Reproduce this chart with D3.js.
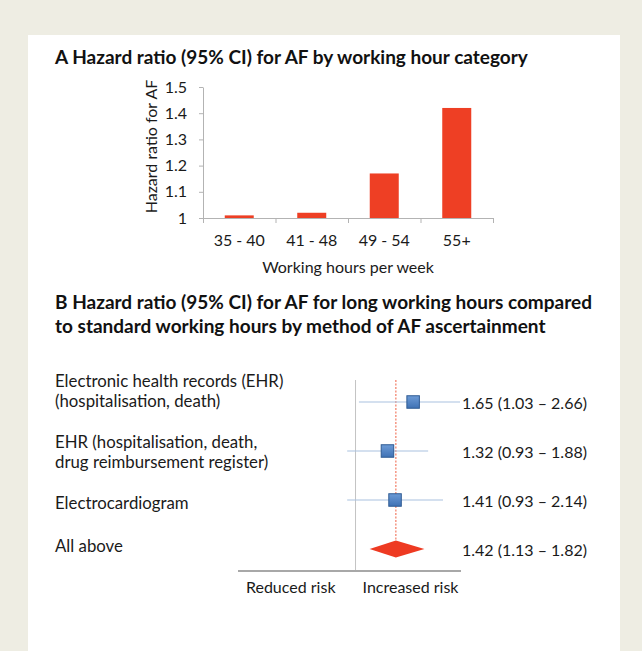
<!DOCTYPE html>
<html>
<head>
<meta charset="utf-8">
<script src="https://cdn.jsdelivr.net/npm/d3@7"></script>
<style>
  body { margin: 0; background: #eeede3; }
  svg { display: block; font-family: Lato, "Open Sans", sans-serif; }
  .title { font-weight: bold; font-size: 19px; fill: #111; }
  .lbl { font-size: 16px; fill: #1a1a1a; }
  .row-label { font-size: 16.8px; fill: #1a1a1a; }
  .lbl-a { font-size: 16px; fill: #1a1a1a; }
  .tick text { font-size: 16px; fill: #1a1a1a; font-family: Lato, sans-serif; }
</style>
</head>
<body>
<svg id="chart"></svg>
<script>
// ---- panel A data ----
const hourCategories = ['35 - 40', '41 - 48', '49 - 54', '55+'];
const hazardRatios = [1.01, 1.02, 1.17, 1.42];
const yTicks = [1, 1.1, 1.2, 1.3, 1.4, 1.5];

// ---- panel B data ----
const methodLabels = [
    ['Electronic health records (EHR)', '(hospitalisation, death)'],
    ['EHR (hospitalisation, death,', 'drug reimbursement register)'],
    ['Electrocardiogram'],
    ['All above']
];
const estimates = [1.65, 1.32, 1.41, 1.42];
const lowerCI = [1.03, 0.93, 0.93, 1.13];
const upperCI = [2.66, 1.88, 2.14, 1.82];
const estimateText = ['1.65 (1.03 \u2013 2.66)', '1.32 (0.93 \u2013 1.88)', '1.41 (0.93 \u2013 2.14)', '1.42 (1.13 \u2013 1.82)'];

const width = 642, height = 651;

const svg = d3.select('#chart')
    .attr('width', width)
    .attr('height', height);

svg.append('rect').attr('width', width).attr('height', height).attr('fill', '#eeede3');
svg.append('rect').attr('x', 28).attr('y', 35).attr('width', 592).attr('height', 616).attr('fill', '#fff');

// ===================== Panel A =====================
svg.append('text').attr('class', 'title')
    .attr('x', 55).attr('y', 64)
    .text('A Hazard ratio (95% CI) for AF by working hour category');

const axisColor = '#b3b3b3';

const xBand = d3.scaleBand()
    .domain(hourCategories)
    .range([203, 493])
    .paddingInner(0.6)
    .paddingOuter(0.3);

// boundaries between categories for the tick marks
const xEdges = d3.scaleLinear().domain([0, hourCategories.length]).range([203, 493]);

const yScale = d3.scaleLinear()
    .domain([1, 1.5])
    .range([218, 87]);

const chartA = svg.append('g');

chartA.selectAll('.bar')
    .data(hourCategories)
    .join('rect')
    .attr('class', 'bar')
    .attr('x', d => xBand(d))
    .attr('width', xBand.bandwidth())
    .attr('y', (d, i) => yScale(hazardRatios[i]))
    .attr('height', (d, i) => yScale(1) - yScale(hazardRatios[i]))
    .attr('fill', '#ee3f24');

// y axis
const yAxisG = chartA.append('g')
    .attr('transform', 'translate(203,0)')
    .call(d3.axisLeft(yScale).tickValues(yTicks).tickFormat(d => String(d)).tickSize(4).tickPadding(12).tickSizeOuter(0));
yAxisG.select('.domain').attr('stroke', axisColor);
yAxisG.selectAll('.tick line').attr('stroke', axisColor);

// x axis: edge ticks
const xEdgeG = chartA.append('g')
    .attr('transform', `translate(0,${yScale(1)})`)
    .call(d3.axisBottom(xEdges).tickValues(d3.range(hourCategories.length + 1)).tickFormat('').tickSize(5).tickSizeOuter(0));
xEdgeG.select('.domain').attr('stroke', axisColor);
xEdgeG.selectAll('.tick line').attr('stroke', axisColor);

// x axis: category labels
const xLabG = chartA.append('g')
    .attr('transform', `translate(0,${yScale(1)})`)
    .call(d3.axisBottom(xBand).tickSize(0).tickPadding(17));
xLabG.select('.domain').remove();

chartA.append('text').attr('class', 'lbl-a')
    .attr('x', 348).attr('y', 273)
    .attr('text-anchor', 'middle')
    .text('Working hours per week');

chartA.append('text').attr('class', 'lbl-a')
    .attr('transform', `translate(157,${(yScale(1) + yScale(1.5)) / 2 - 6}) rotate(-90)`)
    .attr('text-anchor', 'middle')
    .text('Hazard ratio for AF');

// ===================== Panel B =====================
svg.append('text').attr('class', 'title')
    .attr('x', 55).attr('y', 309)
    .text('B Hazard ratio (95% CI) for AF for long working hours compared');
svg.append('text').attr('class', 'title')
    .attr('x', 55).attr('y', 333)
    .text('to standard working hours by method of AF ascertainment');

const xLog = d3.scaleLog()
    .domain([0.36, 2.48])
    .range([238, 460])
    .clamp(true);

const rowScale = d3.scalePoint()
    .domain(d3.range(methodLabels.length))
    .range([402, 549]);

const labelShift = [-11, 1, 3, -3];
const lineGap = 19.5;

const chartB = svg.append('g');

// row labels
chartB.selectAll('.row-label')
    .data(methodLabels)
    .join('text')
    .attr('class', 'row-label')
    .attr('x', 55)
    .attr('y', (d, i) => rowScale(i) + labelShift[i] - (d.length - 1) * lineGap / 2)
    .each(function(d) {
        d3.select(this).selectAll('tspan')
            .data(d)
            .join('tspan')
            .attr('x', 55)
            .attr('dy', (t, j) => j === 0 ? '0.35em' : lineGap)
            .text(t => t);
    });

// null line at HR = 1
chartB.append('line')
    .attr('x1', xLog(1)).attr('x2', xLog(1))
    .attr('y1', 380).attr('y2', 571)
    .attr('stroke', '#c4c4c4').attr('stroke-width', 1);

const pooled = estimates.length - 1;

// pooled estimate dashed line
chartB.append('line')
    .attr('x1', xLog(estimates[pooled])).attr('x2', xLog(estimates[pooled]))
    .attr('y1', 380).attr('y2', rowScale(pooled) - 8)
    .attr('stroke', '#f27a62').attr('stroke-width', 1.2)
    .attr('stroke-dasharray', '2,1.5');

const studies = d3.range(pooled);

// confidence interval lines
chartB.selectAll('.ci')
    .data(studies)
    .join('line')
    .attr('class', 'ci')
    .attr('x1', i => xLog(lowerCI[i]))
    .attr('x2', i => xLog(upperCI[i]))
    .attr('y1', i => rowScale(i))
    .attr('y2', i => rowScale(i))
    .attr('stroke', '#a9c2e0')
    .attr('stroke-width', 1.2);

// square markers
const sq = 12.5;
const grad = svg.append('defs').append('linearGradient')
    .attr('id', 'sqGrad').attr('x1', 0).attr('y1', 0).attr('x2', 0).attr('y2', 1);
grad.append('stop').attr('offset', '0%').attr('stop-color', '#6d9bd6');
grad.append('stop').attr('offset', '100%').attr('stop-color', '#3f72b5');

chartB.selectAll('.est')
    .data(studies)
    .join('rect')
    .attr('class', 'est')
    .attr('x', i => xLog(estimates[i]) - sq / 2)
    .attr('y', i => rowScale(i) - sq / 2)
    .attr('width', sq)
    .attr('height', sq)
    .attr('fill', 'url(#sqGrad)')
    .attr('stroke', '#2f5b93')
    .attr('stroke-width', 1);

// pooled diamond
const py = rowScale(pooled);
chartB.append('path')
    .attr('d', `M${xLog(lowerCI[pooled])},${py} L${xLog(estimates[pooled])},${py - 8.5} L${xLog(upperCI[pooled])},${py} L${xLog(estimates[pooled])},${py + 8.5} Z`)
    .attr('fill', '#ee3a22');

// estimate texts
chartB.selectAll('.est-text')
    .data(estimateText)
    .join('text')
    .attr('class', 'lbl est-text')
    .attr('x', 462)
    .attr('y', (d, i) => rowScale(i) + 1)
    .attr('dy', '0.35em')
    .text(d => d);

// bottom axis line
chartB.append('line')
    .attr('x1', 238).attr('x2', 461)
    .attr('y1', 571).attr('y2', 571)
    .attr('stroke', '#a8a8a8').attr('stroke-width', 2);

chartB.append('text').attr('class', 'lbl')
    .attr('x', xLog(1) - 20).attr('y', 593)
    .attr('text-anchor', 'end')
    .text('Reduced risk');
chartB.append('text').attr('class', 'lbl')
    .attr('x', xLog(1) + 7).attr('y', 593)
    .attr('text-anchor', 'start')
    .text('Increased risk');
</script>
</body>
</html>
